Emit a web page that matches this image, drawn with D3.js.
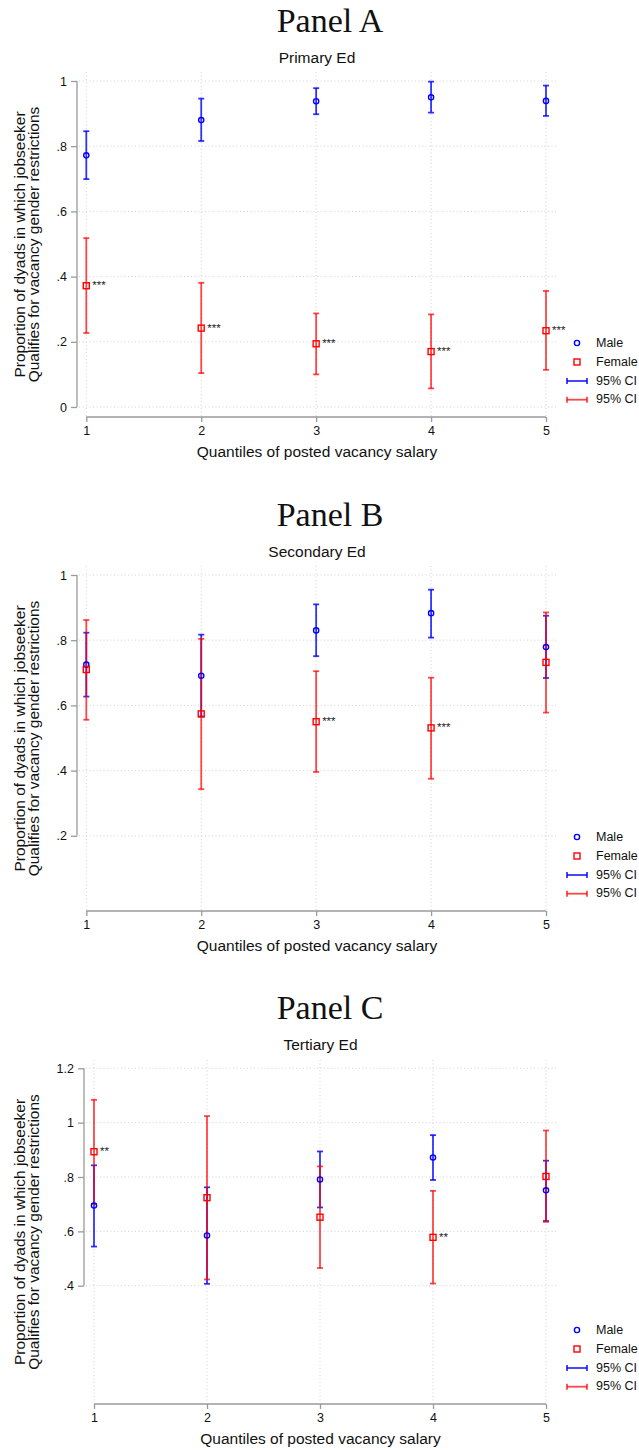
<!DOCTYPE html>
<html lang="en">
<head>
<meta charset="UTF-8">
<title>Gender restrictions by posted salary quantile</title>
<script src="https://cdnjs.cloudflare.com/ajax/libs/d3/7.8.5/d3.min.js"></script>
<style>
  body { margin: 0; background: #fff; }
  svg { display: block; font-family: "Liberation Sans", Arial, sans-serif; }
  .panel-title { font-family: "Liberation Serif", "Times New Roman", serif; font-size: 34px; text-anchor: middle; fill: #111; }
  .sub-title { font-size: 15.5px; text-anchor: middle; fill: #111; }
  .axis-title { font-size: 15.5px; text-anchor: middle; fill: #111; }
  .axis text { font-size: 12.5px; fill: #111; font-family: "Liberation Sans", Arial, sans-serif; }
  .axis line, .axis-line { stroke: #9a9a9a; stroke-width: 1.3px; }
  .grid { stroke: #d2d2d2; stroke-width: 1px; stroke-dasharray: 1,2.5; }
  .stars { font-size: 11.5px; fill: #222; }
  .legend text { font-size: 12.5px; fill: #111; dominant-baseline: central; }
</style>
</head>
<body>
<svg width="639" height="1450"></svg>
<script>
// ---- data ----
const quantiles = [1, 2, 3, 4, 5];
const panelTitles = ["Panel A", "Panel B", "Panel C"];
const subTitles = ["Primary Ed", "Secondary Ed", "Tertiary Ed"];
const xTitle = "Quantiles of posted vacancy salary";
const yTitle = ["Proportion of dyads in which jobseeker", "Qualifies for vacancy gender restrictions"];
const legendLabels = ["Male", "Female", "95% CI", "95% CI"];

const yTicksA = [0, 0.2, 0.4, 0.6, 0.8, 1];
const yTicksB = [0.2, 0.4, 0.6, 0.8, 1];
const yTicksC = [0.4, 0.6, 0.8, 1, 1.2];

// Panel A - primary
const maleA = [0.772, 0.880, 0.938, 0.950, 0.939];
const maleLoA = [0.699, 0.816, 0.898, 0.903, 0.893];
const maleHiA = [0.846, 0.946, 0.978, 0.998, 0.986];
const femaleA = [0.372, 0.242, 0.194, 0.170, 0.234];
const femaleLoA = [0.227, 0.104, 0.100, 0.057, 0.114];
const femaleHiA = [0.518, 0.381, 0.287, 0.284, 0.356];
const starsA = ["***", "***", "***", "***", "***"];

// Panel B - secondary
const maleB = [0.725, 0.691, 0.830, 0.883, 0.779];
const maleLoB = [0.627, 0.566, 0.751, 0.808, 0.684];
const maleHiB = [0.823, 0.817, 0.910, 0.955, 0.875];
const femaleB = [0.710, 0.574, 0.550, 0.531, 0.732];
const femaleLoB = [0.556, 0.343, 0.396, 0.375, 0.578];
const femaleHiB = [0.862, 0.804, 0.705, 0.685, 0.885];
const starsB = ["", "", "***", "***", ""];

// Panel C - tertiary
const maleC = [0.695, 0.585, 0.791, 0.872, 0.751];
const maleLoC = [0.544, 0.407, 0.688, 0.789, 0.638];
const maleHiC = [0.843, 0.762, 0.894, 0.954, 0.860];
const femaleC = [0.893, 0.724, 0.652, 0.578, 0.802];
const femaleLoC = [0.701, 0.423, 0.465, 0.408, 0.635];
const femaleHiC = [1.084, 1.024, 0.839, 0.749, 0.971];
const starsC = ["**", "", "", "**", ""];

// ---- layout ----
const panels = [
  { top: 0,    left: 77, xr: [86.3, 546], yd: [0, 1],     yr: [407, 81],      plotTop: 72,   axisY: 417,
    ticks: yTicksA, m: [maleA, maleLoA, maleHiA], f: [femaleA, femaleLoA, femaleHiA], stars: starsA },
  { top: 494,  left: 77, xr: [86.3, 546], yd: [0, 1],     yr: [901, 575],     plotTop: 566,  axisY: 911,
    ticks: yTicksB, m: [maleB, maleLoB, maleHiB], f: [femaleB, femaleLoB, femaleHiB], stars: starsB },
  { top: 987,  left: 84, xr: [94, 546],   yd: [0.4, 1.2], yr: [1285.7, 1068.3], plotTop: 1060, axisY: 1404,
    ticks: yTicksC, m: [maleC, maleLoC, maleHiC], f: [femaleC, femaleLoC, femaleHiC], stars: starsC }
];
const right = 557;
const blue = "#0000ff", red = "#ff0000";
const fmt = d => d === 0 ? "0" : String(+d.toFixed(2)).replace(/^0\./, ".");

const svg = d3.select("svg");

panels.forEach((p, pi) => {
  const g = svg.append("g");
  const x = d3.scaleLinear().domain([1, 5]).range(p.xr);
  const y = d3.scaleLinear().domain(p.yd).range(p.yr);
  const midX = (p.left + right) / 2;

  // titles
  g.append("text").attr("class", "panel-title").attr("x", 330).attr("y", p.top + 32).text(panelTitles[pi]);
  g.append("text").attr("class", "sub-title").attr("x", midX).attr("y", p.top + 63).text(subTitles[pi]);

  // grid
  g.selectAll(".hgrid").data(p.ticks).enter().append("line")
    .attr("class", "grid")
    .attr("x1", p.left + 2).attr("x2", right)
    .attr("y1", d => y(d)).attr("y2", d => y(d));
  g.selectAll(".vgrid").data(quantiles).enter().append("line")
    .attr("class", "grid")
    .attr("x1", d => x(d)).attr("x2", d => x(d))
    .attr("y1", p.plotTop).attr("y2", p.axisY - 1);

  // y axis
  const ya = g.append("g").attr("class", "axis")
    .attr("transform", `translate(${p.left},0)`)
    .call(d3.axisLeft(y).tickValues(p.ticks).tickFormat(fmt).tickSize(6).tickPadding(4));
  ya.select(".domain").remove();
  ya.append("line").attr("class", "axis-line")
    .attr("y1", y(d3.min(p.ticks))).attr("y2", y(d3.max(p.ticks)));

  // x axis
  const xa = g.append("g").attr("class", "axis")
    .attr("transform", `translate(0,${p.axisY})`)
    .call(d3.axisBottom(x).tickValues(quantiles).tickFormat(d3.format("d")).tickSize(5).tickSizeOuter(0).tickPadding(4));
  xa.select(".domain").remove();
  xa.append("line").attr("class", "axis-line").attr("x1", x(1)).attr("x2", x(5));

  // axis titles
  g.append("text").attr("class", "axis-title").attr("x", midX).attr("y", p.axisY + 40).text(xTitle);
  const midY = (p.plotTop + p.axisY) / 2;
  yTitle.forEach((t, i) => {
    g.append("text").attr("class", "axis-title")
      .attr("transform", `translate(${24.5 + i * 14.5},${midY}) rotate(-90)`)
      .text(t);
  });

  // error bars
  const drawCI = (lo, hi, color, op) => {
    const eg = g.append("g").attr("stroke", color).attr("stroke-opacity", op).attr("stroke-width", 1.8);
    quantiles.forEach((q, i) => {
      eg.append("line").attr("x1", x(q)).attr("x2", x(q)).attr("y1", y(lo[i])).attr("y2", y(hi[i]));
      eg.append("line").attr("x1", x(q) - 3).attr("x2", x(q) + 3).attr("y1", y(lo[i])).attr("y2", y(lo[i]));
      eg.append("line").attr("x1", x(q) - 3).attr("x2", x(q) + 3).attr("y1", y(hi[i])).attr("y2", y(hi[i]));
    });
  };
  drawCI(p.m[1], p.m[2], blue, 0.8);
  drawCI(p.f[1], p.f[2], red, 0.72);

  // markers
  g.selectAll(".male").data(p.m[0]).enter().append("circle")
    .attr("cx", (d, i) => x(quantiles[i])).attr("cy", d => y(d)).attr("r", 2.6)
    .attr("fill", "none").attr("stroke", blue).attr("stroke-width", 1.4);
  g.selectAll(".female").data(p.f[0]).enter().append("rect")
    .attr("x", (d, i) => x(quantiles[i]) - 3).attr("y", d => y(d) - 3)
    .attr("width", 6).attr("height", 6)
    .attr("fill", "none").attr("stroke", red).attr("stroke-width", 1.4);

  // significance stars
  g.selectAll(".stars").data(p.f[0]).enter().append("text")
    .attr("class", "stars")
    .attr("x", (d, i) => x(quantiles[i]) + 6).attr("y", d => y(d) + 3.5)
    .text((d, i) => p.stars[i]);

  // legend
  const ly = p.axisY - 74;
  const lg = g.append("g").attr("class", "legend");
  lg.append("circle").attr("cx", 577).attr("cy", ly).attr("r", 2.6)
    .attr("fill", "none").attr("stroke", blue).attr("stroke-width", 1.4);
  lg.append("rect").attr("x", 574).attr("y", ly + 19 - 3).attr("width", 6).attr("height", 6)
    .attr("fill", "none").attr("stroke", red).attr("stroke-width", 1.4);
  [blue, red].forEach((c, i) => {
    const yy = ly + 38 + i * 18.7;
    const sg = lg.append("g").attr("stroke", c).attr("stroke-opacity", i ? 0.72 : 0.8).attr("stroke-width", 1.8);
    sg.append("line").attr("x1", 567).attr("x2", 587).attr("y1", yy).attr("y2", yy);
    sg.append("line").attr("x1", 567).attr("x2", 567).attr("y1", yy - 3).attr("y2", yy + 3);
    sg.append("line").attr("x1", 587).attr("x2", 587).attr("y1", yy - 3).attr("y2", yy + 3);
  });
  legendLabels.forEach((t, i) => {
    lg.append("text").attr("x", 596).attr("y", ly + i * 18.8).text(t);
  });
});
</script>
</body>
</html>
